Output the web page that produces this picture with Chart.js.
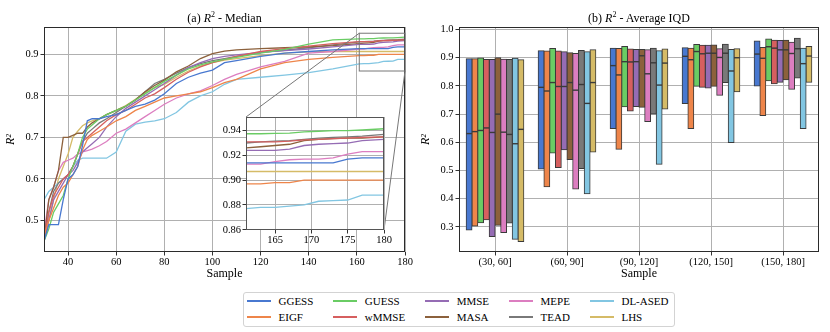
<!DOCTYPE html>
<html>
<head>
<meta charset="utf-8">
<script src="https://cdn.jsdelivr.net/npm/chart.js@4.4.1/dist/chart.umd.min.js"></script>
<style>
  body { margin: 0; background: #fff; }
  #wrap { position: relative; width: 830px; height: 332px; overflow: hidden; font-family: "Liberation Serif", "DejaVu Serif", serif; color: #000; background: #fff; }
  canvas { position: absolute; }
  .ttl { position: absolute; top: 11px; height: 15px; line-height: 15px; font-size: 12px; text-align: center; white-space: nowrap; }
  .ttl sup { font-size: 8px; line-height: 0; vertical-align: 5px; }
  #legend { position: absolute; left: 243px; top: 292px; border: 1px solid #d3d3d3; border-radius: 3px; padding: 0 5px 1px 3px; display: flex; gap: 20px; background: #fff; font-size: 11px; }
  .col { display: flex; flex-direction: column; }
  .item { height: 16px; line-height: 16px; display: flex; align-items: center; white-space: nowrap; }
  .sw { width: 24px; height: 2.5px; margin-right: 7.5px; display: inline-block; }
</style>
</head>
<body>
<div id="wrap">
  <canvas id="cMain" width="415" height="290" style="left:0;top:0;width:415px;height:290px"></canvas>
  <canvas id="cIqd" width="415" height="290" style="left:415px;top:0;width:415px;height:290px"></canvas>
  <canvas id="cInset" width="200" height="150" style="left:196px;top:105px;width:200px;height:150px"></canvas>
  <div class="ttl" style="left:44px;width:361px">(a) <i>R</i><sup>2</sup> - Median</div>
  <div class="ttl" style="left:459px;width:360px">(b) <i>R</i><sup>2</sup> - Average IQD</div>
  <div id="legend"></div>
</div>
<script>
// ---------------- DATA ----------------
const methods = ['GGESS','EIGF','GUESS','wMMSE','MMSE','MASA','MEPE','TEAD','DL-ASED','LHS'];

// (a) median R^2 vs number of samples
const samples = [30,32,34,36,38,40,42,44,46,48,50,53,56,60,64,68,72,76,80,85,90,95,100,105,110,120,130,140,150,161,163,165,167,169,171,173,175,177,180];
const medGGESS = [0.45,0.49,0.49,0.49,0.55,0.60,0.61,0.63,0.68,0.74,0.745,0.745,0.75,0.755,0.765,0.775,0.78,0.79,0.805,0.83,0.845,0.855,0.862,0.88,0.885,0.895,0.903,0.907,0.911,0.914,0.914,0.914,0.914,0.914,0.914,0.914,0.917,0.918,0.918];
const medEIGF  = [0.46,0.50,0.53,0.56,0.58,0.59,0.61,0.63,0.67,0.695,0.705,0.715,0.725,0.74,0.75,0.765,0.775,0.785,0.795,0.80,0.805,0.81,0.82,0.832,0.84,0.865,0.88,0.888,0.893,0.897,0.897,0.898,0.898,0.900,0.900,0.900,0.900,0.900,0.900];
const medGUESS = [0.45,0.48,0.52,0.54,0.56,0.60,0.63,0.66,0.70,0.72,0.73,0.745,0.755,0.765,0.775,0.79,0.805,0.82,0.835,0.85,0.865,0.875,0.882,0.888,0.893,0.903,0.912,0.925,0.935,0.9375,0.9375,0.9378,0.938,0.939,0.9395,0.940,0.940,0.9405,0.9415];
const medWMMSE = [0.46,0.52,0.56,0.58,0.60,0.61,0.63,0.66,0.69,0.70,0.71,0.725,0.74,0.755,0.765,0.78,0.795,0.805,0.82,0.84,0.857,0.87,0.88,0.888,0.895,0.907,0.914,0.92,0.926,0.931,0.931,0.931,0.9315,0.9325,0.933,0.9335,0.934,0.9345,0.935];
const medMMSE  = [0.45,0.50,0.55,0.57,0.59,0.61,0.62,0.64,0.665,0.675,0.685,0.70,0.725,0.75,0.77,0.785,0.80,0.815,0.83,0.85,0.868,0.88,0.89,0.895,0.899,0.905,0.909,0.913,0.918,0.924,0.924,0.924,0.925,0.928,0.929,0.9295,0.930,0.932,0.933];
const medMASA  = [0.45,0.55,0.58,0.62,0.70,0.70,0.705,0.71,0.71,0.725,0.735,0.745,0.755,0.765,0.775,0.79,0.81,0.825,0.838,0.858,0.872,0.89,0.902,0.908,0.911,0.914,0.916,0.918,0.921,0.926,0.927,0.928,0.929,0.932,0.933,0.9335,0.934,0.934,0.935];
const medMEPE  = [0.47,0.55,0.58,0.62,0.64,0.645,0.65,0.66,0.665,0.668,0.672,0.68,0.69,0.71,0.72,0.735,0.75,0.765,0.78,0.795,0.805,0.812,0.825,0.84,0.852,0.87,0.883,0.903,0.907,0.913,0.913,0.915,0.9165,0.917,0.917,0.918,0.921,0.923,0.923];
const medTEAD  = [0.45,0.52,0.57,0.59,0.60,0.61,0.63,0.66,0.69,0.71,0.72,0.735,0.745,0.76,0.775,0.79,0.81,0.83,0.84,0.855,0.868,0.878,0.885,0.89,0.895,0.905,0.91,0.916,0.923,0.930,0.931,0.9315,0.932,0.933,0.934,0.9345,0.935,0.9355,0.937];
const medDLASED= [0.55,0.57,0.58,0.59,0.60,0.61,0.63,0.645,0.65,0.65,0.65,0.65,0.65,0.665,0.715,0.732,0.737,0.74,0.745,0.76,0.785,0.80,0.81,0.828,0.84,0.845,0.85,0.856,0.865,0.877,0.878,0.878,0.879,0.880,0.883,0.8835,0.884,0.888,0.888];
const medLHS   = [0.47,0.50,0.55,0.60,0.63,0.66,0.70,0.715,0.728,0.735,0.74,0.745,0.755,0.765,0.777,0.792,0.808,0.82,0.828,0.845,0.86,0.872,0.88,0.886,0.89,0.897,0.903,0.906,0.907,0.907,0.907,0.907,0.907,0.907,0.907,0.907,0.907,0.907,0.907];
const medianSeries = [medGGESS, medEIGF, medGUESS, medWMMSE, medMMSE, medMASA, medMEPE, medTEAD, medDLASED, medLHS];

// (b) IQD per sample bin: lower quartile, median, upper quartile (rows follow methods)
const bins = ['(30, 60]','(60, 90]','(90, 120]','(120, 150]','(150, 180]'];
const iqdQ1 = [
  [0.289,0.505,0.649,0.738,0.800],
  [0.303,0.442,0.575,0.649,0.695],
  [0.315,0.562,0.726,0.799,0.818],
  [0.325,0.511,0.711,0.795,0.808],
  [0.266,0.574,0.727,0.793,0.813],
  [0.306,0.539,0.724,0.799,0.822],
  [0.280,0.434,0.674,0.767,0.788],
  [0.314,0.507,0.700,0.812,0.828],
  [0.256,0.418,0.522,0.599,0.649],
  [0.248,0.566,0.718,0.779,0.813]
];
const iqdMed = [
  [0.631,0.795,0.872,0.905,0.913],
  [0.638,0.782,0.839,0.893,0.898],
  [0.642,0.812,0.886,0.922,0.939],
  [0.651,0.798,0.885,0.914,0.934],
  [0.635,0.798,0.886,0.916,0.928],
  [0.700,0.812,0.907,0.916,0.928],
  [0.636,0.785,0.843,0.901,0.915],
  [0.628,0.805,0.882,0.916,0.932],
  [0.595,0.738,0.803,0.853,0.879],
  [0.646,0.812,0.881,0.900,0.906]
];
const iqdQ3 = [
  [0.896,0.925,0.934,0.935,0.959],
  [0.896,0.924,0.933,0.934,0.936],
  [0.899,0.933,0.940,0.947,0.966],
  [0.894,0.924,0.931,0.944,0.962],
  [0.894,0.921,0.929,0.944,0.961],
  [0.900,0.918,0.929,0.945,0.962],
  [0.895,0.915,0.928,0.932,0.955],
  [0.894,0.926,0.934,0.948,0.969],
  [0.898,0.921,0.925,0.929,0.934],
  [0.893,0.928,0.931,0.932,0.940]
];

// ---------------- STYLE ----------------
const palette = ['#4878d0','#ee854a','#6acc64','#d65f5f','#956cb4','#8c613c','#dc7ec0','#797979','#82c6e2','#d5bb67'];
const FONT = '"Liberation Serif", "DejaVu Serif", serif';
Chart.defaults.font.family = FONT;
Chart.defaults.color = '#000';
Chart.defaults.animation = false;
const GRID = '#b0b0b0';
const TICKC = '#333';
const EDGE = '#3a3a3a';
const tickFont = { size: 10.5, family: FONT };

const framePlugin = (color) => ({
  id: 'frame',
  afterDatasetsDraw(chart) {
    const a = chart.chartArea, ctx = chart.ctx;
    ctx.save();
    ctx.strokeStyle = color; ctx.lineWidth = 1;
    ctx.strokeRect(Math.round(a.left) + 0.5, Math.round(a.top) + 0.5, Math.round(a.right - a.left) - 1, Math.round(a.bottom - a.top) - 1);
    ctx.restore();
  }
});

// ---------------- INSET ----------------
const insetOffset = { x: 196, y: 105 };
const lineDatasets = () => methods.map((m, i) => ({
  label: m,
  data: samples.map((s, k) => ({ x: s, y: medianSeries[i][k] })),
  borderColor: palette[i],
  backgroundColor: palette[i],
  borderWidth: 1.3,
  pointRadius: 0,
  tension: 0
}));

const insetChart = new Chart(document.getElementById('cInset'), {
  type: 'line',
  data: { datasets: lineDatasets() },
  options: {
    responsive: false,
    animation: false,
    layout: { padding: { top: 12, right: 12, left: 0, bottom: 0 } },
    plugins: { legend: { display: false }, tooltip: { enabled: false } },
    scales: {
      x: {
        type: 'linear', min: 161, max: 180,
        ticks: { stepSize: 5, includeBounds: false, font: tickFont, padding: 0, maxRotation: 0 },
        grid: { color: GRID, tickLength: 3.5, tickColor: TICKC },
        border: { display: false },
        afterFit(s) { s.height = 25; }
      },
      y: {
        type: 'linear', min: 0.8598, max: 0.951,
        ticks: { stepSize: 0.02, includeBounds: false, font: tickFont, padding: 1.5, callback: v => v.toFixed(2) },
        grid: { color: GRID, tickLength: 3.5, tickColor: TICKC },
        border: { display: false },
        afterFit(s) { s.width = 50; }
      }
    }
  },
  plugins: [{
    id: 'bg',
    beforeDraw(chart) {
      const a = chart.chartArea, ctx = chart.ctx;
      ctx.save(); ctx.fillStyle = '#fff';
      ctx.fillRect(a.left, a.top, a.right - a.left, a.bottom - a.top);
      ctx.restore();
    }
  }, framePlugin('#555')]
});

// ---------------- (a) MAIN ----------------
const zoomBox = { x0: 161, x1: 180, y0: 0.86, y1: 0.951 };
new Chart(document.getElementById('cMain'), {
  type: 'line',
  data: { datasets: lineDatasets() },
  options: {
    responsive: false,
    animation: false,
    layout: { padding: { top: 27, right: 10, left: 0, bottom: 0 } },
    plugins: { legend: { display: false }, tooltip: { enabled: false } },
    scales: {
      x: {
        type: 'linear', min: 30, max: 180,
        ticks: { stepSize: 20, includeBounds: false, font: tickFont, padding: 0, maxRotation: 0 },
        grid: { color: GRID, tickLength: 3.5, tickColor: TICKC },
        border: { display: false },
        title: { display: true, text: 'Sample', font: { size: 12, family: FONT }, padding: { top: 0, bottom: 9 } },
        afterFit(s) { s.height = 38; }
      },
      y: {
        type: 'linear', min: 0.424, max: 0.966,
        ticks: { stepSize: 0.1, includeBounds: false, font: tickFont, padding: 2, callback: v => v.toFixed(1) },
        grid: { color: GRID, tickLength: 3.5, tickColor: TICKC },
        border: { display: false },
        title: { display: true, text: 'R²', font: { size: 12, style: 'italic', family: FONT }, padding: { top: 4, bottom: 0 } },
        afterFit(s) { s.width = 44; }
      }
    }
  },
  plugins: [framePlugin('#2b2b2b'), {
    id: 'zoomMark',
    afterDraw(chart) {
      const xs = chart.scales.x, ys = chart.scales.y, ctx = chart.ctx;
      const l = xs.getPixelForValue(zoomBox.x0), r = xs.getPixelForValue(zoomBox.x1);
      const t = ys.getPixelForValue(zoomBox.y1), b = ys.getPixelForValue(zoomBox.y0);
      const ia = insetChart.chartArea;
      ctx.save();
      ctx.strokeStyle = '#777'; ctx.lineWidth = 1;
      ctx.strokeRect(l, t, r - l, b - t);
      ctx.beginPath();
      ctx.moveTo(l, t); ctx.lineTo(insetOffset.x + ia.left, insetOffset.y + ia.top);
      ctx.moveTo(r, b); ctx.lineTo(insetOffset.x + ia.right, insetOffset.y + ia.bottom);
      ctx.stroke();
      ctx.restore();
    }
  }]
});

// ---------------- (b) IQD ----------------
const barDatasets = methods.map((m, i) => ({
  label: m,
  data: bins.map((b, j) => [iqdQ1[i][j], iqdQ3[i][j]]),
  backgroundColor: palette[i],
  borderColor: EDGE,
  borderWidth: 1,
  borderSkipped: false,
  inflateAmount: 0.5
}));

new Chart(document.getElementById('cIqd'), {
  type: 'bar',
  data: { labels: bins, datasets: barDatasets },
  options: {
    responsive: false,
    animation: false,
    categoryPercentage: 0.8,
    barPercentage: 1.0,
    layout: { padding: { top: 27, right: 11, left: 0, bottom: 0 } },
    plugins: { legend: { display: false }, tooltip: { enabled: false } },
    scales: {
      x: {
        type: 'category',
        ticks: { font: tickFont, padding: 0, maxRotation: 0 },
        grid: { color: GRID, tickLength: 3.5, tickColor: TICKC, offset: false },
        border: { display: false },
        title: { display: true, text: 'Sample', font: { size: 12, family: FONT }, padding: { top: 0, bottom: 9 } },
        afterFit(s) { s.height = 38; }
      },
      y: {
        type: 'linear', min: 0.211, max: 1.009,
        ticks: { stepSize: 0.1, includeBounds: false, font: tickFont, padding: 2, callback: v => v.toFixed(1) },
        grid: { color: GRID, tickLength: 3.5, tickColor: TICKC },
        border: { display: false },
        title: { display: true, text: 'R²', font: { size: 12, style: 'italic', family: FONT }, padding: { top: 4, bottom: 0 } },
        afterFit(s) { s.width = 44; }
      }
    }
  },
  plugins: [{
    id: 'medians',
    afterDatasetsDraw(chart) {
      const ys = chart.scales.y, ctx = chart.ctx;
      ctx.save();
      ctx.strokeStyle = EDGE; ctx.lineWidth = 1.4;
      chart.data.datasets.forEach((ds, i) => {
        chart.getDatasetMeta(i).data.forEach((bar, j) => {
          const p = bar.getProps(['x', 'width'], true);
          const y = ys.getPixelForValue(iqdMed[i][j]);
          ctx.beginPath();
          ctx.moveTo(p.x - p.width / 2, y);
          ctx.lineTo(p.x + p.width / 2, y);
          ctx.stroke();
        });
      });
      ctx.restore();
    }
  }, framePlugin('#2b2b2b')]
});

// ---------------- LEGEND ----------------
const legend = document.getElementById('legend');
for (let c = 0; c < methods.length / 2; c++) {
  const col = document.createElement('div');
  col.className = 'col';
  [2 * c, 2 * c + 1].forEach(i => {
    const it = document.createElement('div');
    it.className = 'item';
    const sw = document.createElement('span');
    sw.className = 'sw';
    sw.style.background = palette[i];
    it.appendChild(sw);
    it.appendChild(document.createTextNode(methods[i]));
    col.appendChild(it);
  });
  legend.appendChild(col);
}
</script>
</body>
</html>
